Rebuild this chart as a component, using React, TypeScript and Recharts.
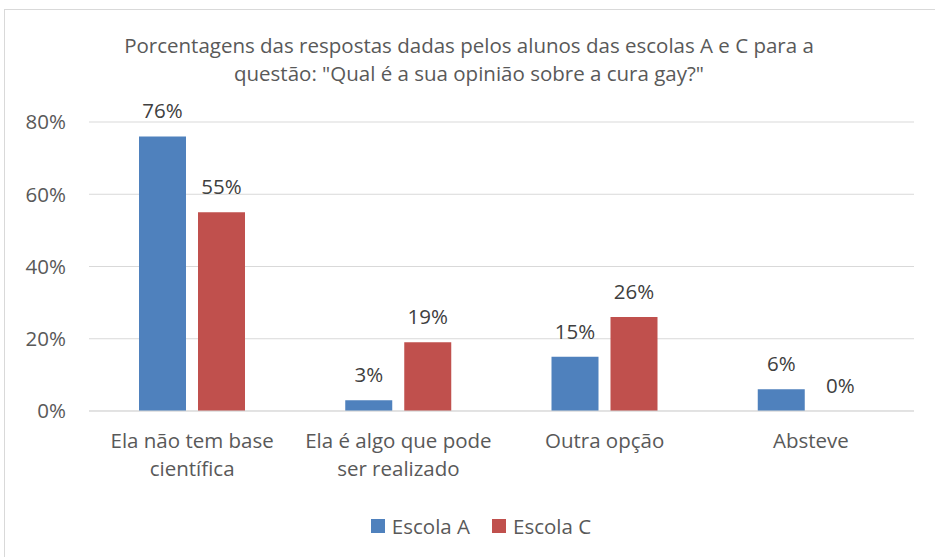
import React from 'react';
import { BarChart, Bar, XAxis, YAxis, CartesianGrid, LabelList, Legend } from 'recharts';

const categories: string[] = [
    'Ela não tem base\ncientífica',
    'Ela é algo que pode\nser realizado',
    'Outra opção',
    'Absteve',
];
const escolaA: number[] = [0.76, 0.03, 0.15, 0.06];
const escolaC: number[] = [0.55, 0.19, 0.26, 0];
const yTicks: number[] = [0, 0.2, 0.4, 0.6, 0.8];

const seriesInfo = [
    { key: 'escolaA', name: 'Escola A', color: '#4F81BD' },
    { key: 'escolaC', name: 'Escola C', color: '#C0504D' },
];

const data = categories.map((c, i) => ({ name: c, escolaA: escolaA[i], escolaC: escolaC[i] }));

const FONT = '"Open Sans", sans-serif';
const FS = 20.5;
const pct = (v: any) => `${Math.round(Number(v) * 100)}%`;

const CategoryTick = (props: any) => {
    const { x, y, payload } = props;
    const lines = String(payload.value).split('\n');
    return (
        <g transform={`translate(${x},${y})`}>
            {lines.map((line, i) => (
                <text key={i} x={0} y={i * 28} dy={29} textAnchor="middle" fill="#595959" fontSize={FS} fontFamily={FONT}>
                    {line}
                </text>
            ))}
        </g>
    );
};

const renderLegend = () => (
    <div style={{ display: 'flex', justifyContent: 'center', alignItems: 'center', height: 30, paddingLeft: 48, fontFamily: FONT, fontSize: FS, color: '#595959' }}>
        {seriesInfo.map((s) => (
            <span key={s.key} style={{ display: 'flex', alignItems: 'center', margin: '0 11px' }}>
                <span style={{ width: 14, height: 14, backgroundColor: s.color, marginRight: 7, display: 'inline-block' }}></span>
                {s.name}
            </span>
        ))}
    </div>
);

// keep zero-value bars in the layout so their labels ("0%") still render
const zeroMin = (v: any) => (Number(v) === 0 ? 0.01 : 0);

const App: React.FC = () => {
    return (
        <div style={{ position: 'fixed', left: 0, top: 0, width: 935, height: 557, background: '#fff', overflow: 'hidden' }}>
            <div style={{ position: 'absolute', left: 4, top: 9, width: 960, height: 600, borderLeft: '1px solid #d9d9d9', borderTop: '1px solid #d9d9d9' }}></div>
            <div style={{ position: 'absolute', left: 0, top: 31, width: 938, textAlign: 'center', fontFamily: FONT, fontSize: FS, lineHeight: '28px', color: '#595959' }}>
                Porcentagens das respostas dadas pelos alunos das escolas A e C para a<br />
                questão: "Qual é a sua opinião sobre a cura gay?"
            </div>
            <div style={{ position: 'absolute', left: 0, top: 0 }}>
                <BarChart width={935} height={557} data={data} margin={{ top: 122, right: 21, left: 0, bottom: 16 }} barSize={47} barGap={12}>
                    <CartesianGrid vertical={false} stroke="#d9d9d9" />
                    <XAxis dataKey="name" height={100} tick={<CategoryTick />} tickLine={false} axisLine={{ stroke: '#d9d9d9' }} interval={0} />
                    <YAxis width={89} domain={[0, 0.8]} ticks={yTicks} tickFormatter={pct} axisLine={false} tickLine={false} tickMargin={17}
                        tick={{ fill: '#595959', fontSize: FS, fontFamily: FONT }} />
                    <Legend verticalAlign="bottom" content={renderLegend} />
                    {seriesInfo.map((s) => (
                        <Bar key={s.key} dataKey={s.key} name={s.name} fill={s.color} isAnimationActive={false} minPointSize={zeroMin}>
                            <LabelList dataKey={s.key} position="top" offset={18} formatter={pct} fill="#404040" fontSize={FS} fontFamily={FONT} />
                        </Bar>
                    ))}
                </BarChart>
            </div>
        </div>
    );
};

export default App;
